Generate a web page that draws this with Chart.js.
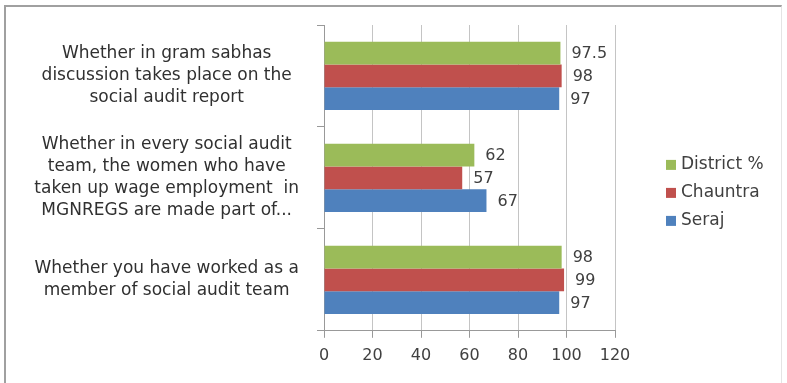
<!DOCTYPE html>
<html>
<head>
<meta charset="utf-8">
<script src="https://cdn.jsdelivr.net/npm/chart.js@4/dist/chart.umd.min.js"></script>
<style>
  body { margin: 0; background: #fff; }
  #caja {
    position: absolute; left: 4px; top: 5px; width: 778px; height: 378px;
    border-top: 2px solid #a0a0a0; border-left: 2px solid #a0a0a0;
    border-right: 1px solid #e4e4e4; box-sizing: border-box;
  }
</style>
</head>
<body>
<div id="caja"><canvas id="grafico"></canvas></div>
<script>
// Preguntas (de arriba a abajo)
const preguntas = [
    ["Whether in gram sabhas", "discussion takes place on the", "social audit report"],
    ["Whether in every social audit", "team, the women who have", "taken up wage employment  in", "MGNREGS are made part of..."],
    ["Whether you have worked as a", "member of social audit team"]
];
const series = ["District %", "Chauntra", "Seraj"];
const valoresDistrito = [97.5, 62, 98];
const valoresChauntra = [98, 57, 99];
const valoresSeraj = [97, 67, 97];
const ticksX = [0, 20, 40, 60, 80, 100, 120];

const colores = ['#9BBB59', '#C0504D', '#4F81BD'];
const fuente = '"DejaVu Sans", sans-serif';

// Etiquetas con el valor al final de cada barra
const etiquetasValor = {
    id: 'etiquetasValor',
    afterDatasetsDraw(chart) {
        const ctx = chart.ctx;
        ctx.save();
        ctx.font = '16px ' + fuente;
        ctx.fillStyle = '#404040';
        ctx.textAlign = 'left';
        ctx.textBaseline = 'middle';
        chart.data.datasets.forEach((ds, i) => {
            chart.getDatasetMeta(i).data.forEach((barra, j) => {
                ctx.fillText(String(ds.data[j]), barra.x + 11, barra.y + 1);
            });
        });
        ctx.restore();
    }
};

// Leyenda a la derecha del area del grafico
const leyenda = {
    id: 'leyenda',
    afterDraw(chart) {
        const ctx = chart.ctx;
        const area = chart.chartArea;
        const x = area.right + 51;
        const yMedio = (area.top + area.bottom) / 2 + 15;
        ctx.save();
        ctx.font = '17px ' + fuente;
        ctx.textBaseline = 'middle';
        series.forEach((nombre, i) => {
            const y = yMedio + (i - 1) * 28;
            ctx.fillStyle = colores[i];
            ctx.fillRect(x, y - 5, 10, 10);
            ctx.fillStyle = '#404040';
            ctx.fillText(nombre, x + 15, y);
        });
        ctx.restore();
    }
};

const datos = {
    labels: preguntas,
    datasets: [
        { label: series[0], data: valoresDistrito, backgroundColor: colores[0] },
        { label: series[1], data: valoresChauntra, backgroundColor: colores[1] },
        { label: series[2], data: valoresSeraj, backgroundColor: colores[2] }
    ]
};

const config = {
    type: 'bar',
    data: datos,
    plugins: [etiquetasValor, leyenda],
    options: {
        indexAxis: 'y',
        animation: false,
        responsive: true,
        maintainAspectRatio: false,
        datasets: { bar: { categoryPercentage: 0.67, barPercentage: 1 } },
        layout: { padding: { top: 18, left: 0, right: 166, bottom: 10 } },
        plugins: {
            legend: { display: false },
            tooltip: { enabled: false }
        },
        scales: {
            x: {
                min: 0, max: 120,
                afterBuildTicks: (eje) => { eje.ticks = ticksX.map(v => ({ value: v })); },
                grid: { color: '#c4c4c4', tickLength: 7, tickColor: '#999' },
                border: { color: '#999' },
                ticks: { color: '#404040', padding: 8, font: { family: fuente, size: 16 } }
            },
            y: {
                // ancho fijo para las preguntas y sin margen extra arriba/abajo
                afterFit: (eje) => {
                    eje.width = 318;
                    eje.paddingTop = 0;
                    eje.paddingBottom = 0;
                },
                grid: { drawOnChartArea: false, tickLength: 7, tickColor: '#999' },
                border: { color: '#999' },
                ticks: {
                    crossAlign: 'center', padding: 18, color: '#303030',
                    font: { family: fuente, size: 17, lineHeight: 1.3 }
                }
            }
        }
    }
};

new Chart(document.getElementById('grafico'), config);
</script>
</body>
</html>
